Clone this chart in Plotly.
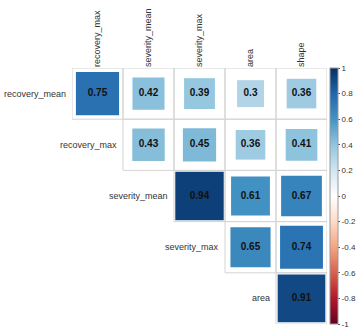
import numpy as np
import plotly.graph_objects as go

# upper-triangle correlation matrix (diag removed)
row_names = ["recovery_mean", "recovery_max", "severity_mean", "severity_max", "area"]
col_names = ["recovery_max", "severity_mean", "severity_max", "area", "shape"]
corr_rows = [
    [0.75, 0.42, 0.39, 0.3, 0.36],
    [0.43, 0.45, 0.36, 0.41],
    [0.94, 0.61, 0.67],
    [0.65, 0.74],
    [0.91],
]
cbar_ticks = [1, 0.8, 0.6, 0.4, 0.2, 0, -0.2, -0.4, -0.6, -0.8, -1]

# corrplot RdBu palette
pal = ["#67001F", "#B2182B", "#D6604D", "#F4A582", "#FDDBC7", "#FFFFFF",
       "#D1E5F0", "#92C5DE", "#4393C3", "#2166AC", "#053061"]
colorscale = [[i / (len(pal) - 1), c] for i, c in enumerate(pal)]

CELL = 51  # pixel size of one cell
W, H = 357, 329

xs, ys, vals = [], [], []
for i, row in enumerate(corr_rows):
    for k, v in enumerate(row):
        xs.append(col_names[i + k])
        ys.append(row_names[i])
        vals.append(v)

fig = go.Figure()

# cell borders
shapes = []
for i, row in enumerate(corr_rows):
    for k in range(len(row)):
        j = i + k
        shapes.append(dict(type="rect", xref="x", yref="y",
                           x0=j - 0.5, x1=j + 0.5, y0=i - 0.5, y1=i + 0.5,
                           line=dict(color="#D4D4D4", width=1), layer="below"))

fig.add_trace(go.Scatter(
    x=xs, y=ys, mode="markers+text",
    marker=dict(
        symbol="square", opacity=1,
        size=[CELL * np.sqrt(abs(v)) - 1 for v in vals],
        color=vals, colorscale=colorscale, cmin=-1, cmax=1,
        line=dict(width=0),
        colorbar=dict(
            xref="container", x=330 / W, xanchor="left", xpad=0,
            thickness=8, len=1, ypad=0,
            outlinecolor="#999999", outlinewidth=1,
            tickvals=cbar_ticks, ticktext=[f"{t:g}" for t in cbar_ticks],
            ticks="outside", ticklen=2, tickcolor="#555555",
            tickfont=dict(size=8, color="#333333", family="Liberation Sans, Arial"),
        ),
    ),
    text=[f"<b>{v:g}</b>" for v in vals],
    textposition="middle center",
    textfont=dict(size=10, color="#111111", family="Liberation Sans, Arial"),
    hoverinfo="skip", showlegend=False,
))

# row labels next to first cell of each row
annotations = []
for i, name in enumerate(row_names):
    annotations.append(dict(x=i - 0.5, y=name, xref="x", yref="y", text=name,
                            showarrow=False, xanchor="right", xshift=-4,
                            font=dict(size=9, color="#333333", family="Liberation Sans, Arial")))

fig.update_layout(
    width=W, height=H,
    margin=dict(l=72, r=30, t=68, b=5, autoexpand=False),
    paper_bgcolor="white", plot_bgcolor="white",
    shapes=shapes, annotations=annotations,
    xaxis=dict(side="top", tickangle=-90, range=[-0.5, 4.5],
               categoryorder="array", categoryarray=col_names,
               showgrid=False, zeroline=False, showline=False, ticks="",
               tickfont=dict(size=9, color="#333333", family="Liberation Sans, Arial")),
    yaxis=dict(range=[4.5, -0.5], categoryorder="array", categoryarray=row_names,
               showgrid=False, zeroline=False, showline=False, showticklabels=False, ticks=""),
)

# drop the default 8px page margin so the figure fills the window
fig.write_html("out.html", config={"displayModeBar": False},
               post_script="document.body.style.margin='0';")
